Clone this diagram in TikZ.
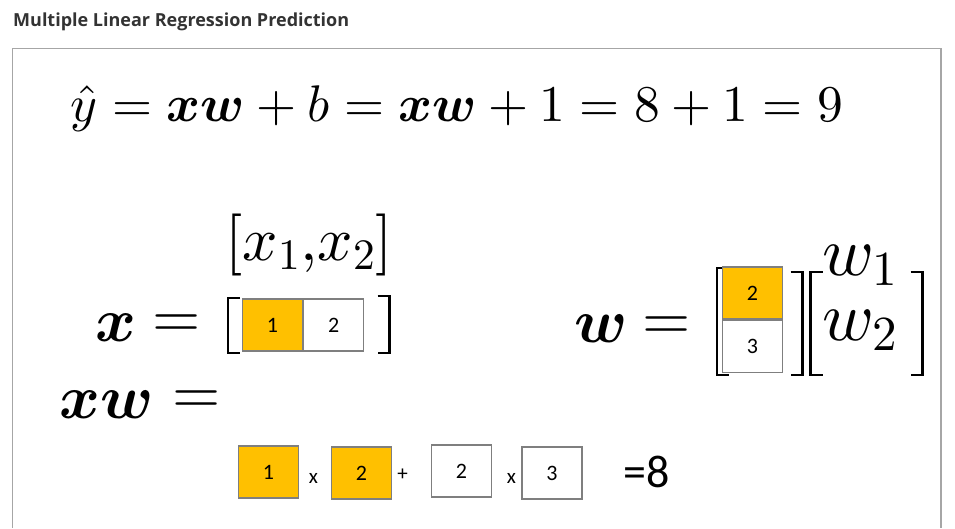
\documentclass[tikz,border=0pt]{standalone}
\usepackage{fix-cm}
\usepackage{bm}
\usepackage{fontspec}
\newfontfamily\calib{Carlito}
\newfontfamily\opsans{Open Sans}
% heavier design sizes for the large math
\DeclareFontShape{OT1}{cmr}{m}{n}{<->cmr10}{}
\DeclareFontShape{OML}{cmm}{m}{it}{<->cmmi10}{}
\usetikzlibrary{positioning}
\definecolor{gold}{HTML}{FFC000}
\definecolor{boxline}{HTML}{7F7F7F}
\definecolor{framegray}{HTML}{A6A6A6}
\definecolor{ttl}{HTML}{333333}
\tikzset{
  cell/.style={draw=boxline, line width=1.2pt, minimum width=60pt, minimum height=52pt,
    inner sep=0pt, font=\calib\fontsize{22}{24}\selectfont},
  hot/.style={cell, fill=gold},
  brk/.style={line width=2.6pt},
  big/.style={inner sep=0pt, anchor=base, font=\fontsize{62}{70}\selectfont},
  small/.style={inner sep=0pt, font=\calib\fontsize{21}{24}\selectfont}
}
% left and right square brackets: x, top y, bottom y
\newcommand{\lbr}[3]{\draw[brk] (#1,#2) ++(12,0) -- ++(-12,0) -- (#1,#3) -- ++(12,0)}
\newcommand{\rbr}[3]{\draw[brk] (#1,#2) ++(-12,0) -- ++(12,0) -- (#1,#3) -- ++(-12,0)}

\begin{document}
\begin{tikzpicture}[x=1pt, y=-1pt]
    \useasboundingbox (0,0) rectangle (955,528);
    \node[anchor=base west, inner sep=0pt, text=ttl, font=\opsans\bfseries\fontsize{18}{20}\selectfont]
        (title) at (13,26) {Multiple Linear Regression Prediction};
    \draw[framegray, line width=1.3pt] (12.5,528) |- (941,48.5) -- (941,528);
    \node[anchor=base, inner sep=0pt, font=\fontsize{51.5}{60}\selectfont] (eq) at (457,121)
        {$\hat{y} = \bm{xw} + b = \bm{xw} + 1 = 8 + 1 = 9$};
    % x row
    \node[big] (xvec) at (309,260) {$[x_1{,}x_2]$};
    \node[big] (xlab) at (116,341) {$\bm{x}$};
    \node[big] (xeq) at (177,337) {$=$};
    \node[hot] (xa) at (272.5,325) {1};
    \node[cell, right=0pt of xa] (xb) {2};
    \lbr{228}{298}{353};
    \rbr{389.5}{296}{353};
    % w column
    \node[big] (wlab) at (601,342) {$\bm{w}$};
    \node[big] (weq) at (667,339) {$=$};
    \lbr{717}{268}{375};
    \node[hot] (wa) at (752.5,293) {2};
    \node[cell, below=0pt of wa] (wb) {3};
    \rbr{802.5}{272}{375};
    \lbr{810.5}{272}{375};
    \rbr{922.5}{272}{375};
    \node[big, anchor=base west, font=\fontsize{70}{76}\selectfont] (wa1) at (822,275) {$w_1$};
    \node[big, anchor=base west, font=\fontsize{70}{76}\selectfont] (wb2) at (822,340) {$w_2$};
    % product
    \node[big] (xwlab) at (106.5,418) {$\bm{xw}$};
    \node[big] (xweq) at (197,413) {$=$};
    \begin{scope}[every node/.append style={font=\calib\fontsize{24}{26}\selectfont}]
        \node[hot] (pa) at (268.5,472) {1};
        \node[hot] (pb) at (361.5,473) {2};
        \node[cell] (pc) at (461.5,471) {2};
        \node[cell] (pd) at (552,473) {3};
    \end{scope}
    \node[small] (ma) at (313.5,478) {x};
    \node[small] (pl) at (402.5,475) {+};
    \node[small] (mb) at (511.5,478) {x};
    \node[inner sep=0pt, font=\calib\fontsize{46}{50}\selectfont] (res) at (647,472) {=8};
\end{tikzpicture}
\end{document}
